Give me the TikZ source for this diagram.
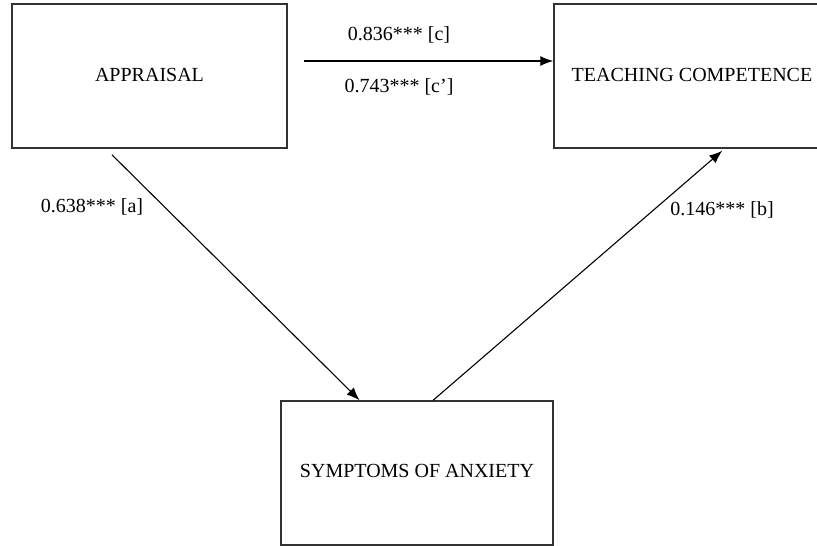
\documentclass[tikz,border=0pt]{standalone}
\usepackage{fontspec}
\setmainfont{Liberation Serif}
\usetikzlibrary{arrows.meta,calc}
\begin{document}
\begin{tikzpicture}[x=1pt,y={(0pt,-1pt)},
  box/.style={draw=black!80,line width=1.5pt,rectangle,inner sep=0pt,font=\fontsize{20}{22}\selectfont},
  lbl/.style={font=\fontsize{20}{22}\selectfont,inner sep=0pt},
  arr/.style={draw=black,line width=1.1pt,-{Latex[length=13pt,width=10pt]}}]
\useasboundingbox (0,0) rectangle (817,546);
\clip (0,0) rectangle (817,546);
\fill[white] (0,0) rectangle (817,546);
\node[box,minimum width=275pt,minimum height=144pt] (app) at (149.5,76) {\raisebox{3pt}{APPRAISAL}};
\node[box,minimum width=276pt,minimum height=144pt] (tc) at (692,76) {\raisebox{3pt}{TEACHING COMPETENCE}};
\node[box,minimum width=272pt,minimum height=144pt] (sa) at (417,473) {\raisebox{4pt}{SYMPTOMS OF ANXIETY}};
\coordinate (cs) at ($(app.east)+(16,-15)$);
\draw[arr] (cs) -- (cs -| tc.west);
\coordinate (as) at ($(app.south west)!0.364!(app.south east)+(0,6)$);
\coordinate (ae) at ($(sa.north west)!0.29!(sa.north east)$);
\draw[arr] (as) -- (ae);
\coordinate (bs) at ($(sa.north west)!0.559!(sa.north east)$);
\coordinate (be) at ($(tc.south west)!0.609!(tc.south east)+(0,2)$);
\draw[arr] (bs) -- (be);
\node[lbl] (lc) at (399,35) {0.836*** [c]};
\node[lbl] (lcp) at (399,87) {0.743*** [c’]};
\node[lbl] (la) at (92,207) {0.638*** [a]};
\node[lbl] (lb) at (722,210) {0.146*** [b]};
\end{tikzpicture}
\end{document}
